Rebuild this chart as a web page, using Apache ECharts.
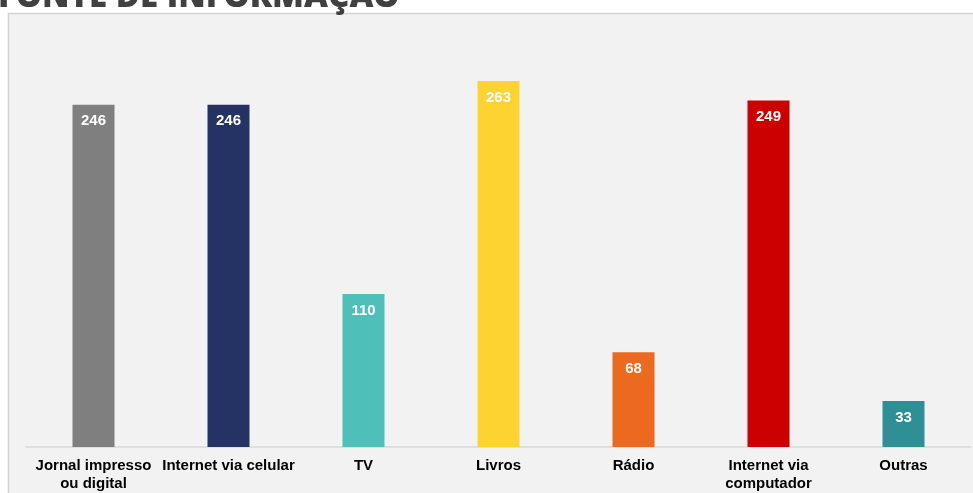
<!DOCTYPE html>
<html>
<head>
<meta charset="utf-8">
<script src="https://cdn.jsdelivr.net/npm/echarts@6/dist/echarts.min.js"></script>
<style>
  html, body { margin: 0; padding: 0; background: #ffffff; }
  #chart { width: 973px; height: 493px; }
</style>
</head>
<body>
<div id="chart"></div>
<script>
// dados
const categories = [
  "Jornal impresso\nou digital",
  "Internet via celular",
  "TV",
  "Livros",
  "Rádio",
  "Internet via\ncomputador",
  "Outras"
];
const values = [246, 246, 110, 263, 68, 249, 33];
const barColors = ["#7f7f7f", "#253264", "#4fbfb9", "#fdd332", "#ec6a1f", "#cc0000", "#2e8f95"];

const chart = echarts.init(document.getElementById("chart"));

const option = {
  animation: false,
  backgroundColor: "#ffffff",
  graphic: [
    {
      type: "rect",
      z: -10,
      shape: { x: 8.5, y: 13.5, width: 990, height: 500 },
      style: { fill: "#f2f2f2", stroke: "#d4d4d4", lineWidth: 1.5 }
    },
    {
      type: "text",
      left: -2,
      top: -19,
      style: {
        text: "FONTE DE INFORMAÇÃO",
        font: "800 33px 'Open Sans', sans-serif",
        fill: "#404040"
      }
    }
  ],
  grid: {
    left: 26,
    right: 2,
    top: 29.5,
    bottom: 43.5,
    containLabel: false
  },
  xAxis: {
    type: "category",
    data: categories,
    axisLine: { lineStyle: { color: "#d9d9d9", width: 1.5 } },
    axisTick: { show: false },
    axisLabel: {
      color: "#000000",
      fontFamily: "'Liberation Sans', Arial, sans-serif",
      fontWeight: "bold",
      fontSize: 15,
      lineHeight: 18,
      margin: 10,
      interval: 0
    }
  },
  yAxis: {
    type: "value",
    min: 0,
    max: 300,
    show: false
  },
  series: [
    {
      type: "bar",
      barWidth: 42,
      data: values.map((v, i) => ({ value: v, itemStyle: { color: barColors[i] } })),
      label: {
        show: true,
        position: "insideTop",
        distance: 9,
        color: "#ffffff",
        fontFamily: "'Liberation Sans', Arial, sans-serif",
        fontWeight: "bold",
        fontSize: 15
      }
    }
  ]
};

chart.setOption(option);
</script>
</body>
</html>
